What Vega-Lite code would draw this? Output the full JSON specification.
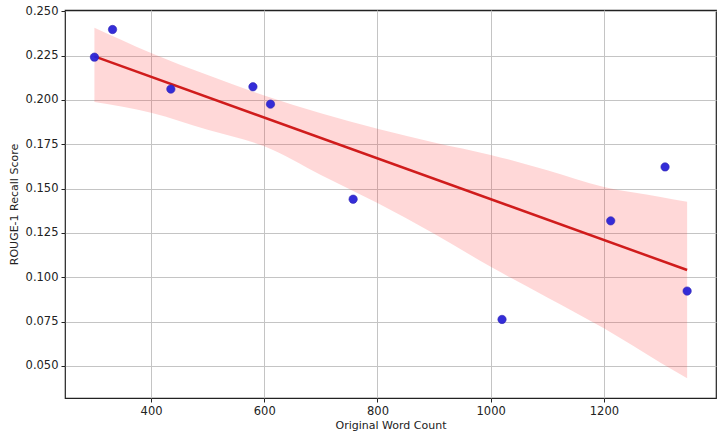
{
  "$schema": "https://vega.github.io/schema/vega-lite/v6.json",
  "width": 651,
  "height": 388,
  "autosize": {"type": "none"},
  "padding": {"left": 65, "top": 10, "right": 3, "bottom": 37},
  "background": "white",
  "config": {
    "font": "DejaVu Sans",
    "view": {"stroke": "#222222", "strokeWidth": 1.2},
    "axis": {
      "domain": false,
      "grid": true,
      "gridColor": "#c4c4c4",
      "gridWidth": 1,
      "tickColor": "#222222",
      "tickSize": 4,
      "labelFont": "DejaVu Sans",
      "labelFontSize": 11.5,
      "labelColor": "#222222",
      "labelPadding": 3,
      "titleFont": "DejaVu Sans",
      "titleFontSize": 11,
      "titleFontWeight": "normal",
      "titleColor": "#222222"
    }
  },
  "datasets": {
    "scores": [
      {"words": 300, "recall": 0.2241},
      {"words": 332, "recall": 0.2397},
      {"words": 435, "recall": 0.2061},
      {"words": 580, "recall": 0.2074},
      {"words": 611, "recall": 0.1976},
      {"words": 757, "recall": 0.1440},
      {"words": 1020, "recall": 0.0762},
      {"words": 1212, "recall": 0.1318},
      {"words": 1308, "recall": 0.1622},
      {"words": 1347, "recall": 0.0922}
    ],
    "ci": [
      {"words": 300, "lo": 0.1988, "hi": 0.2407},
      {"words": 400, "lo": 0.1928, "hi": 0.2265},
      {"words": 500, "lo": 0.1832, "hi": 0.2140},
      {"words": 600, "lo": 0.1738, "hi": 0.2025},
      {"words": 700, "lo": 0.1577, "hi": 0.1925},
      {"words": 800, "lo": 0.1418, "hi": 0.1838},
      {"words": 900, "lo": 0.1245, "hi": 0.1760},
      {"words": 1000, "lo": 0.1059, "hi": 0.1690},
      {"words": 1100, "lo": 0.0886, "hi": 0.1603},
      {"words": 1200, "lo": 0.0712, "hi": 0.1509},
      {"words": 1300, "lo": 0.0518, "hi": 0.1453},
      {"words": 1347, "lo": 0.0430, "hi": 0.1425}
    ]
  },
  "encoding": {
    "x": {
      "type": "quantitative",
      "scale": {"domain": [248, 1398], "nice": false, "zero": false},
      "axis": {"values": [400, 600, 800, 1000, 1200], "format": "d", "title": "Original Word Count", "titlePadding": 3}
    }
  },
  "layer": [
    {
      "data": {"name": "ci"},
      "mark": {"type": "area", "color": "#ff3b3b", "opacity": 0.2, "interpolate": "monotone"},
      "encoding": {
        "x": {"field": "words", "type": "quantitative"},
        "y": {
          "field": "lo",
          "type": "quantitative",
          "scale": {"domain": [0.0319, 0.2507], "nice": false, "zero": false},
          "axis": {
            "values": [0.05, 0.075, 0.1, 0.125, 0.15, 0.175, 0.2, 0.225, 0.25],
            "format": ".3f",
            "title": "ROUGE-1 Recall Score",
            "titlePadding": 6
          }
        },
        "y2": {"field": "hi"}
      }
    },
    {
      "data": {"name": "scores"},
      "transform": [{"regression": "recall", "on": "words"}],
      "mark": {"type": "line", "color": "#d01c1c", "strokeWidth": 2.5},
      "encoding": {
        "x": {"field": "words", "type": "quantitative"},
        "y": {"field": "recall", "type": "quantitative"}
      }
    },
    {
      "data": {"name": "scores"},
      "mark": {"type": "point", "filled": true, "color": "#2a22d6", "opacity": 0.95, "size": 70, "stroke": "#2a1fb0", "strokeWidth": 0.6},
      "encoding": {
        "x": {"field": "words", "type": "quantitative"},
        "y": {"field": "recall", "type": "quantitative"}
      }
    }
  ]
}
